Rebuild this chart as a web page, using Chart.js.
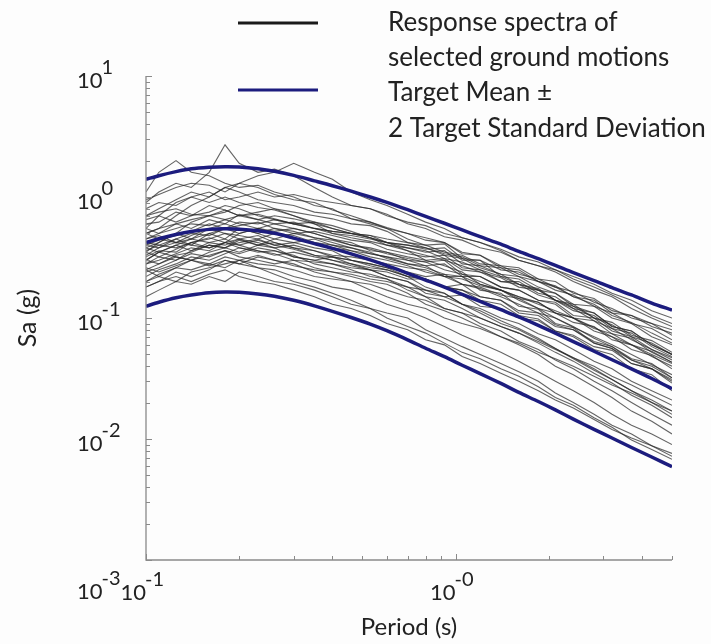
<!DOCTYPE html>
<html>
<head>
<meta charset="utf-8">
<script src="https://cdn.jsdelivr.net/npm/chart.js@4.4.1/dist/chart.umd.min.js"></script>
<style>
  html, body { margin: 0; padding: 0; background: #fdfdfd; }
  #wrap { width: 711px; height: 644px; }
</style>
</head>
<body>
<div id="wrap"><canvas id="spectra-chart"></canvas></div>
<script>
// periods (s) shared by every curve
const periods = [0.1, 0.11, 0.125, 0.14, 0.16, 0.18, 0.2, 0.23, 0.26, 0.3,
  0.35, 0.4, 0.46, 0.53, 0.6, 0.7, 0.8, 0.92, 1.05, 1.2,
  1.4, 1.6, 1.85, 2.1, 2.4, 2.8, 3.2, 3.7, 4.3, 5.0];

// target spectrum, Sa (g)
const targetMean = [0.42, 0.452, 0.49, 0.518, 0.54, 0.546, 0.542, 0.526, 0.501, 0.457,
  0.412, 0.376, 0.339, 0.302, 0.271, 0.234, 0.206, 0.18, 0.157, 0.137,
  0.117, 0.102, 0.087, 0.075, 0.0638, 0.0531, 0.0452, 0.038, 0.0316, 0.026];
const targetUpper = [1.40, 1.50, 1.62, 1.71, 1.76, 1.78, 1.77, 1.71, 1.63, 1.51,
  1.36, 1.24, 1.117, 1.0, 0.902, 0.785, 0.692, 0.607, 0.535, 0.47,
  0.407, 0.355, 0.309, 0.272, 0.237, 0.204, 0.178, 0.155, 0.133, 0.116];
const targetLower = [0.125, 0.135, 0.147, 0.155, 0.162, 0.164, 0.163, 0.158, 0.151, 0.140,
  0.126, 0.1135, 0.101, 0.089, 0.0785, 0.066, 0.0562, 0.0479, 0.0407, 0.0347,
  0.0288, 0.0243, 0.0204, 0.0174, 0.0146, 0.0120, 0.0102, 0.0085, 0.0071, 0.0059];

// response spectra of the selected ground motions, Sa (g)
const groundMotions = [
  [0.9, 1.1, 1.3, 1.2, 1.6, 2.7, 1.9, 1.6, 1.7, 1.5, 1.2, 1.0, 0.85, 0.8, 0.72, 0.6, 0.55, 0.47, 0.44, 0.38, 0.35, 0.3, 0.27, 0.25, 0.21, 0.18, 0.155, 0.13, 0.105, 0.09],
  [1.1, 1.6, 2.0, 1.6, 1.5, 1.3, 1.2, 1.25, 1.1, 1.0, 0.85, 0.8, 0.66, 0.6, 0.55, 0.45, 0.4, 0.41, 0.31, 0.3, 0.22, 0.21, 0.17, 0.16, 0.125, 0.11, 0.085, 0.078, 0.06, 0.05],
  [0.7, 0.8, 0.95, 1.1, 1.0, 1.2, 1.3, 1.5, 1.6, 1.9, 1.6, 1.4, 1.1, 0.95, 0.85, 0.72, 0.62, 0.55, 0.46, 0.42, 0.36, 0.3, 0.27, 0.24, 0.2, 0.17, 0.15, 0.12, 0.1, 0.085],
  [0.55, 0.7, 0.9, 1.0, 1.1, 0.95, 1.0, 1.1, 1.0, 1.05, 0.95, 0.9, 0.85, 0.8, 0.7, 0.62, 0.58, 0.5, 0.46, 0.42, 0.37, 0.32, 0.29, 0.25, 0.22, 0.19, 0.16, 0.14, 0.115, 0.1],
  [0.95, 1.05, 1.2, 1.3, 1.25, 1.1, 1.3, 1.2, 1.05, 0.95, 0.9, 0.78, 0.7, 0.62, 0.55, 0.5, 0.46, 0.42, 0.35, 0.33, 0.27, 0.26, 0.21, 0.2, 0.16, 0.145, 0.115, 0.105, 0.085, 0.075],
  [0.5, 0.55, 0.7, 0.85, 1.0, 1.2, 1.1, 0.95, 0.9, 0.85, 0.75, 0.72, 0.66, 0.62, 0.56, 0.5, 0.44, 0.42, 0.34, 0.33, 0.26, 0.25, 0.2, 0.185, 0.15, 0.13, 0.105, 0.092, 0.075, 0.062],
  [0.35, 0.42, 0.5, 0.62, 0.7, 0.75, 0.85, 0.9, 0.8, 0.75, 0.7, 0.66, 0.6, 0.58, 0.52, 0.42, 0.38, 0.33, 0.31, 0.26, 0.23, 0.19, 0.17, 0.14, 0.12, 0.095, 0.082, 0.066, 0.055, 0.045],
  [0.8, 0.9, 0.85, 1.0, 0.9, 1.0, 0.9, 0.82, 0.78, 0.7, 0.62, 0.55, 0.5, 0.46, 0.42, 0.36, 0.3, 0.27, 0.24, 0.19, 0.17, 0.14, 0.12, 0.1, 0.085, 0.068, 0.058, 0.045, 0.038, 0.031],
  [0.6, 0.62, 0.75, 0.7, 0.85, 0.78, 0.7, 0.75, 0.8, 0.7, 0.6, 0.5, 0.48, 0.45, 0.42, 0.4, 0.37, 0.38, 0.3, 0.3, 0.25, 0.24, 0.2, 0.18, 0.15, 0.14, 0.11, 0.105, 0.09, 0.08],
  [0.45, 0.5, 0.6, 0.55, 0.65, 0.6, 0.72, 0.65, 0.6, 0.62, 0.55, 0.5, 0.46, 0.43, 0.4, 0.36, 0.33, 0.3, 0.27, 0.24, 0.215, 0.18, 0.17, 0.14, 0.125, 0.1, 0.088, 0.07, 0.062, 0.05],
  [0.3, 0.35, 0.4, 0.45, 0.5, 0.55, 0.62, 0.6, 0.65, 0.6, 0.55, 0.52, 0.5, 0.46, 0.4, 0.38, 0.35, 0.36, 0.28, 0.27, 0.23, 0.22, 0.18, 0.16, 0.13, 0.125, 0.1, 0.09, 0.07, 0.06],
  [0.4, 0.38, 0.45, 0.5, 0.48, 0.55, 0.5, 0.55, 0.6, 0.55, 0.5, 0.45, 0.42, 0.36, 0.35, 0.3, 0.29, 0.25, 0.23, 0.2, 0.17, 0.15, 0.135, 0.11, 0.1, 0.078, 0.07, 0.055, 0.049, 0.038],
  [0.32, 0.36, 0.35, 0.42, 0.45, 0.5, 0.48, 0.45, 0.5, 0.48, 0.42, 0.4, 0.36, 0.34, 0.32, 0.28, 0.27, 0.22, 0.22, 0.17, 0.16, 0.125, 0.118, 0.09, 0.083, 0.062, 0.056, 0.042, 0.038, 0.029],
  [0.38, 0.42, 0.5, 0.45, 0.55, 0.6, 0.55, 0.5, 0.45, 0.42, 0.38, 0.36, 0.3, 0.28, 0.26, 0.22, 0.18, 0.16, 0.13, 0.115, 0.095, 0.082, 0.068, 0.056, 0.047, 0.038, 0.031, 0.025, 0.02, 0.016],
  [0.28, 0.3, 0.34, 0.38, 0.36, 0.42, 0.45, 0.4, 0.42, 0.38, 0.36, 0.32, 0.3, 0.27, 0.25, 0.22, 0.21, 0.18, 0.19, 0.15, 0.14, 0.115, 0.11, 0.088, 0.08, 0.064, 0.058, 0.046, 0.042, 0.032],
  [0.5, 0.45, 0.42, 0.48, 0.55, 0.5, 0.45, 0.48, 0.42, 0.38, 0.33, 0.3, 0.28, 0.25, 0.22, 0.2, 0.16, 0.15, 0.13, 0.11, 0.09, 0.08, 0.066, 0.056, 0.046, 0.037, 0.031, 0.025, 0.021, 0.017],
  [0.25, 0.28, 0.32, 0.3, 0.35, 0.38, 0.42, 0.45, 0.4, 0.42, 0.45, 0.4, 0.38, 0.34, 0.32, 0.3, 0.27, 0.28, 0.22, 0.22, 0.18, 0.17, 0.14, 0.135, 0.105, 0.1, 0.078, 0.07, 0.055, 0.047],
  [0.35, 0.32, 0.3, 0.36, 0.4, 0.38, 0.35, 0.4, 0.38, 0.32, 0.3, 0.28, 0.26, 0.25, 0.22, 0.2, 0.17, 0.16, 0.13, 0.12, 0.1, 0.09, 0.074, 0.066, 0.055, 0.044, 0.038, 0.03, 0.025, 0.021],
  [0.22, 0.25, 0.28, 0.32, 0.3, 0.34, 0.38, 0.36, 0.33, 0.35, 0.32, 0.3, 0.27, 0.25, 0.24, 0.21, 0.21, 0.18, 0.17, 0.15, 0.14, 0.11, 0.105, 0.085, 0.08, 0.062, 0.056, 0.045, 0.04, 0.032],
  [0.3, 0.35, 0.32, 0.3, 0.33, 0.36, 0.32, 0.3, 0.28, 0.3, 0.26, 0.24, 0.22, 0.2, 0.19, 0.16, 0.13, 0.115, 0.1, 0.085, 0.07, 0.06, 0.05, 0.04, 0.034, 0.027, 0.022, 0.017, 0.014, 0.011],
  [0.2, 0.22, 0.2, 0.24, 0.26, 0.28, 0.3, 0.26, 0.25, 0.22, 0.2, 0.18, 0.17, 0.15, 0.13, 0.115, 0.1, 0.085, 0.072, 0.062, 0.052, 0.044, 0.036, 0.03, 0.025, 0.02, 0.016, 0.013, 0.011, 0.009],
  [0.15, 0.17, 0.2, 0.19, 0.22, 0.2, 0.24, 0.22, 0.2, 0.19, 0.17, 0.15, 0.13, 0.12, 0.11, 0.1, 0.08, 0.068, 0.058, 0.05, 0.042, 0.036, 0.03, 0.024, 0.02, 0.016, 0.013, 0.011, 0.0088, 0.0072],
  [0.18, 0.2, 0.24, 0.22, 0.25, 0.3, 0.28, 0.32, 0.3, 0.28, 0.24, 0.22, 0.2, 0.17, 0.15, 0.13, 0.12, 0.1, 0.09, 0.082, 0.07, 0.062, 0.052, 0.046, 0.04, 0.033, 0.028, 0.024, 0.02, 0.017],
  [0.26, 0.24, 0.27, 0.3, 0.28, 0.26, 0.3, 0.33, 0.3, 0.27, 0.25, 0.24, 0.23, 0.21, 0.2, 0.18, 0.17, 0.15, 0.155, 0.125, 0.12, 0.1, 0.095, 0.078, 0.072, 0.058, 0.054, 0.042, 0.038, 0.03],
  [0.45, 0.48, 0.42, 0.45, 0.42, 0.4, 0.45, 0.42, 0.38, 0.4, 0.36, 0.33, 0.32, 0.3, 0.28, 0.26, 0.25, 0.22, 0.21, 0.185, 0.17, 0.145, 0.135, 0.11, 0.1, 0.082, 0.074, 0.06, 0.053, 0.043],
  [0.36, 0.4, 0.45, 0.4, 0.38, 0.42, 0.38, 0.35, 0.36, 0.33, 0.28, 0.26, 0.24, 0.23, 0.21, 0.17, 0.15, 0.12, 0.11, 0.09, 0.078, 0.064, 0.055, 0.045, 0.038, 0.03, 0.025, 0.02, 0.016, 0.013],
  [0.55, 0.5, 0.55, 0.6, 0.58, 0.65, 0.6, 0.55, 0.52, 0.55, 0.5, 0.45, 0.4, 0.38, 0.35, 0.32, 0.3, 0.31, 0.25, 0.24, 0.2, 0.19, 0.155, 0.14, 0.115, 0.105, 0.082, 0.075, 0.058, 0.048],
  [0.3, 0.28, 0.33, 0.35, 0.4, 0.38, 0.44, 0.4, 0.45, 0.5, 0.46, 0.42, 0.38, 0.35, 0.31, 0.28, 0.26, 0.23, 0.22, 0.19, 0.17, 0.15, 0.13, 0.115, 0.1, 0.084, 0.07, 0.06, 0.05, 0.042],
  [0.42, 0.4, 0.38, 0.42, 0.46, 0.42, 0.4, 0.36, 0.34, 0.3, 0.29, 0.28, 0.25, 0.22, 0.21, 0.18, 0.15, 0.14, 0.12, 0.1, 0.085, 0.075, 0.062, 0.052, 0.044, 0.035, 0.029, 0.023, 0.019, 0.015],
  [0.24, 0.26, 0.3, 0.34, 0.32, 0.36, 0.34, 0.38, 0.36, 0.32, 0.3, 0.32, 0.3, 0.28, 0.26, 0.24, 0.22, 0.23, 0.19, 0.18, 0.155, 0.145, 0.12, 0.11, 0.092, 0.085, 0.066, 0.06, 0.048, 0.04],
  [0.5, 0.55, 0.6, 0.65, 0.7, 0.65, 0.7, 0.72, 0.66, 0.6, 0.55, 0.52, 0.5, 0.48, 0.42, 0.4, 0.38, 0.34, 0.32, 0.27, 0.26, 0.22, 0.2, 0.17, 0.155, 0.125, 0.11, 0.09, 0.082, 0.066],
  [0.65, 0.7, 0.62, 0.7, 0.75, 0.85, 0.8, 0.7, 0.65, 0.6, 0.62, 0.58, 0.52, 0.46, 0.42, 0.38, 0.36, 0.31, 0.29, 0.25, 0.22, 0.19, 0.175, 0.14, 0.13, 0.1, 0.092, 0.072, 0.065, 0.052],
  [0.33, 0.38, 0.42, 0.4, 0.5, 0.45, 0.55, 0.5, 0.55, 0.52, 0.46, 0.44, 0.4, 0.37, 0.34, 0.31, 0.29, 0.3, 0.23, 0.22, 0.18, 0.17, 0.14, 0.13, 0.1, 0.095, 0.074, 0.068, 0.052, 0.043],
  [0.4, 0.44, 0.48, 0.52, 0.6, 0.55, 0.58, 0.62, 0.55, 0.5, 0.52, 0.48, 0.44, 0.42, 0.37, 0.34, 0.32, 0.33, 0.26, 0.25, 0.2, 0.2, 0.16, 0.15, 0.12, 0.11, 0.085, 0.078, 0.06, 0.05],
  [0.28, 0.32, 0.37, 0.42, 0.38, 0.42, 0.5, 0.55, 0.5, 0.45, 0.42, 0.38, 0.36, 0.32, 0.3, 0.27, 0.24, 0.22, 0.19, 0.175, 0.15, 0.13, 0.11, 0.1, 0.084, 0.07, 0.06, 0.05, 0.041, 0.034],
  [0.7, 0.75, 0.8, 0.72, 0.7, 0.78, 0.7, 0.65, 0.7, 0.66, 0.6, 0.55, 0.5, 0.48, 0.45, 0.42, 0.4, 0.35, 0.33, 0.28, 0.27, 0.23, 0.21, 0.18, 0.165, 0.135, 0.12, 0.1, 0.09, 0.072],
  [0.2, 0.23, 0.26, 0.25, 0.28, 0.32, 0.3, 0.28, 0.27, 0.25, 0.22, 0.21, 0.2, 0.19, 0.17, 0.15, 0.14, 0.12, 0.11, 0.1, 0.085, 0.075, 0.064, 0.055, 0.047, 0.04, 0.033, 0.028, 0.023, 0.019],
  [0.25, 0.22, 0.26, 0.3, 0.27, 0.3, 0.28, 0.26, 0.23, 0.2, 0.18, 0.16, 0.14, 0.12, 0.1, 0.085, 0.075, 0.062, 0.052, 0.046, 0.038, 0.033, 0.027, 0.022, 0.019, 0.015, 0.0125, 0.0098, 0.0082, 0.0068],
  [0.18, 0.2, 0.22, 0.2, 0.23, 0.25, 0.22, 0.2, 0.19, 0.17, 0.15, 0.13, 0.12, 0.105, 0.09, 0.08, 0.066, 0.06, 0.048, 0.042, 0.035, 0.03, 0.025, 0.021, 0.018, 0.0145, 0.012, 0.0102, 0.0088, 0.0076],
  [0.38, 0.35, 0.4, 0.36, 0.42, 0.45, 0.4, 0.44, 0.4, 0.37, 0.33, 0.32, 0.28, 0.26, 0.25, 0.22, 0.21, 0.18, 0.17, 0.14, 0.13, 0.105, 0.098, 0.078, 0.07, 0.055, 0.05, 0.038, 0.034, 0.025]
];

// axis ticks and their exponent labels
const xTickValues = [0.1, 1];
const xTickExps = ['-1', '-0'];
const yTickValues = [10, 1, 0.1, 0.01, 0.001];
const yTickExps = ['1', '0', '-1', '-2', '-3'];

const legendLines = ['Response spectra of', 'selected ground motions', 'Target Mean \u00b1', '2 Target Standard Deviation'];

const FONT = 'Lato, "Open Sans", sans-serif';
const INK = '#222222';
const AXIS_GREY = '#8a8a8a';
const MOTION_COLOR = 'rgba(40, 40, 40, 0.72)';
const TARGET_COLOR = '#1c1c7e';

function toPoints(values) {
  return values.map((v, i) => ({ x: periods[i], y: v }));
}

// "10" with a raised exponent, MATLAB style
function drawPower(ctx, exp, x, y, anchor) {
  ctx.font = '22px ' + FONT;
  const baseW = ctx.measureText('10').width;
  const bx = anchor === 'left' ? x : x - baseW;
  ctx.textAlign = 'left';
  ctx.textBaseline = 'alphabetic';
  ctx.fillText('10', bx, y);
  ctx.font = '20px ' + FONT;
  ctx.fillText(exp, bx + baseW - 1, y - 14);
}

const matlabAxes = {
  id: 'matlabAxes',
  beforeDraw(chart) {
    const ctx = chart.ctx;
    ctx.save();
    ctx.fillStyle = '#fdfdfd';
    ctx.fillRect(0, 0, chart.width, chart.height);
    ctx.restore();
  },
  afterDraw(chart) {
    const { ctx, chartArea: a, scales: { x, y } } = chart;
    ctx.save();

    // axis lines
    ctx.strokeStyle = AXIS_GREY;
    ctx.lineWidth = 1.3;
    ctx.beginPath();
    ctx.moveTo(a.left, a.top);
    ctx.lineTo(a.left, a.bottom);
    ctx.lineTo(a.right, a.bottom);
    ctx.stroke();

    // inward ticks, major and minor
    ctx.lineWidth = 1;
    ctx.beginPath();
    for (const d of [0.1, 1]) {
      for (let k = 1; k <= 9; k++) {
        const v = d * k;
        if (v > x.max + 1e-9) break;
        const px = Math.round(x.getPixelForValue(v)) + 0.5;
        const len = k === 1 ? 6 : 4;
        ctx.moveTo(px, a.bottom);
        ctx.lineTo(px, a.bottom - len);
      }
    }
    for (const d of [0.001, 0.01, 0.1, 1, 10]) {
      for (let k = 1; k <= 9; k++) {
        const v = d * k;
        if (v > y.max + 1e-9) break;
        const py = Math.round(y.getPixelForValue(v)) + 0.5;
        const len = k === 1 ? 6 : 4;
        ctx.moveTo(a.left, py);
        ctx.lineTo(a.left + len, py);
      }
    }
    ctx.stroke();

    // tick labels
    ctx.fillStyle = INK;
    xTickValues.forEach((v, i) => {
      drawPower(ctx, xTickExps[i], x.getPixelForValue(v), a.bottom + 40, 'right');
    });
    yTickValues.forEach((v, i) => {
      const py = y.getPixelForValue(v);
      const shift = i === yTickValues.length - 1 ? 39 : 12;
      drawPower(ctx, yTickExps[i], 77, py + shift, 'left');
    });

    // axis titles
    ctx.textAlign = 'center';
    ctx.textBaseline = 'middle';
    ctx.font = '24px ' + FONT;
    ctx.fillText('Period (s)', (a.left + a.right) / 2, 627);
    ctx.save();
    ctx.font = '25px ' + FONT;
    ctx.translate(28, (a.top + a.bottom) / 2);
    ctx.rotate(-Math.PI / 2);
    ctx.fillText('Sa (g)', 0, 0);
    ctx.restore();

    // legend
    ctx.lineWidth = 3;
    ctx.strokeStyle = '#1a1a1a';
    ctx.beginPath();
    ctx.moveTo(238, 23);
    ctx.lineTo(318, 23);
    ctx.stroke();
    ctx.strokeStyle = TARGET_COLOR;
    ctx.beginPath();
    ctx.moveTo(238, 90);
    ctx.lineTo(318, 90);
    ctx.stroke();
    ctx.font = '26px ' + FONT;
    ctx.textAlign = 'left';
    ctx.textBaseline = 'alphabetic';
    const baselines = [31, 66, 101, 137];
    legendLines.forEach((t, i) => ctx.fillText(t, 388, baselines[i]));

    ctx.restore();
  }
};

const datasets = [];
[targetUpper, targetMean, targetLower].forEach(vals => {
  datasets.push({
    data: toPoints(vals),
    borderColor: TARGET_COLOR,
    borderWidth: 3.5,
    pointRadius: 0,
    tension: 0.3,
    order: 0
  });
});
groundMotions.forEach(vals => {
  datasets.push({
    data: toPoints(vals),
    borderColor: MOTION_COLOR,
    borderWidth: 1.1,
    pointRadius: 0,
    tension: 0,
    order: 1
  });
});

new Chart(document.getElementById('spectra-chart'), {
  type: 'line',
  data: { datasets },
  options: {
    responsive: true,
    maintainAspectRatio: false,
    animation: false,
    events: [],
    layout: { padding: { left: 146, right: 39, top: 76, bottom: 84 } },
    plugins: { legend: { display: false }, tooltip: { enabled: false } },
    scales: {
      x: { type: 'logarithmic', min: 0.1, max: 5, display: false },
      y: { type: 'logarithmic', min: 0.001, max: 10, display: false }
    }
  },
  plugins: [matlabAxes]
});
</script>
</body>
</html>
